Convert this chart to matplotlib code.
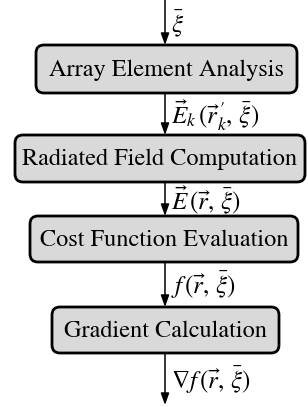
import matplotlib

matplotlib.use("Agg")
import matplotlib.pyplot as plt
from matplotlib.patches import FancyBboxPatch

plt.rcParams["font.family"] = ["STIXGeneral", "DejaVu Serif"]
plt.rcParams["mathtext.fontset"] = "stix"

# Pipeline stages (top to bottom) and the quantity passed on each arrow
stages = [
    "Array Element Analysis",
    "Radiated Field Computation",
    "Cost Function Evaluation",
    "Gradient Calculation",
]
arrow_labels = [
    r"$\bar{\xi}$",
    r"$\vec{E}_k\,(\vec{r}_k^{\,\prime},\,\bar{\xi})$",
    r"$\vec{E}\,(\vec{r},\,\bar{\xi})$",
    r"$f\,(\vec{r},\,\bar{\xi})$",
    r"$\nabla f\,(\vec{r},\,\bar{\xi})$",
]

# layout in pixel units (x, y-top, width, height of each box)
box_x = [36, 15, 30, 52]
box_w = [261, 290, 268, 227]
box_top = [45, 135, 216, 307]
box_h = [48, 47, 46, 46]
cx = 165
W, H = 308, 407

fig = plt.figure(figsize=(W / 100, H / 100), dpi=100)
ax = fig.add_axes([0, 0, 1, 1])
ax.set_xlim(0, W)
ax.set_ylim(H, 0)
ax.axis("off")

r = 8
for name, x, w, t, h in zip(stages, box_x, box_w, box_top, box_h):
    patch = FancyBboxPatch(
        (x + r, t + r), w - 2 * r, h - 2 * r,
        boxstyle=f"round,pad={r},rounding_size={r}",
        facecolor="#d9d9d9", edgecolor="black", linewidth=2.0,
    )
    ax.add_patch(patch)
    ax.text(x + w / 2, t + h / 2 + 1, name, ha="center", va="center", fontsize=17.5)

# arrow segments: top edge -> first box, between boxes, last box -> bottom
starts = [0] + [t + h for t, h in zip(box_top, box_h)]
ends = box_top + [H - 2]
for lab, y0, y1 in zip(arrow_labels, starts, ends):
    ax.annotate(
        "", xy=(cx, y1), xytext=(cx, y0),
        arrowprops=dict(arrowstyle="-|>,head_length=0.5,head_width=0.18",
                        color="black", lw=1.1,
                        mutation_scale=14, shrinkA=0, shrinkB=0),
    )
    ax.text(cx + 6, (y0 + y1) / 2 + 1, lab, ha="left", va="center", fontsize=18)

fig.savefig("out.png", dpi=100)
